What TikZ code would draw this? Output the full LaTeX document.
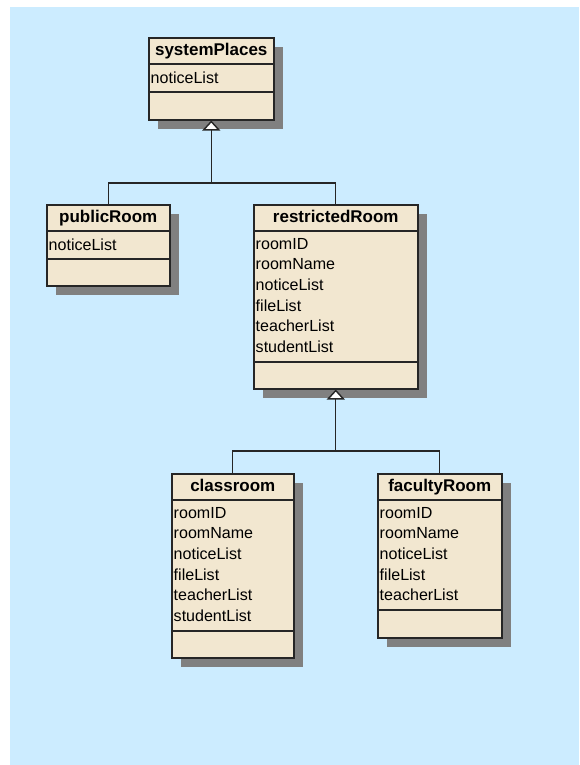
\documentclass[tikz,border=0pt]{standalone}
\usepackage{fontspec}
\setmainfont{Liberation Sans}
\usetikzlibrary{calc,shadows,arrows.meta}
\definecolor{sky}{HTML}{CCECFF}
\definecolor{classfill}{HTML}{F2E7D0}
\definecolor{shade}{HTML}{808080}
\newcommand\px{0.03cm}

\begin{document}
\begin{tikzpicture}[x=\px, y=-\px,
        box/.style={draw=black!85, fill=classfill, line width=1.3pt, anchor=north west, inner sep=0pt,
          drop shadow={shadow xshift=0.27cm, shadow yshift=-0.27cm, fill=shade, opacity=1}},
        title/.style={font=\fontsize{14.5}{17}\selectfont\bfseries, anchor=base, inner sep=0pt},
        attrs/.style={font=\fontsize{13.7}{17.6}\selectfont, align=left, anchor=north west, inner sep=0pt},
        sep/.style={draw=black!85, line width=1.3pt},
        link/.style={draw=black!85, line width=1.2pt},
        inherit/.style={link, -{Triangle[fill=white, width=0.54cm, length=0.3cm]}}]
        \useasboundingbox (0, 0) rectangle (579, 765);
        \fill [sky] (10, 7) rectangle (579, 765);

        \node [box, minimum width=125*\px, minimum height=82*\px] (sysPlaces) at (148, 37) {};
        \node [title] (sysPlacesName) at ($(sysPlaces.north)+(0, 18.5)$) {systemPlaces};
        \draw [sep] ($(sysPlaces.north west)+(0, 27)$) -- ($(sysPlaces.north east)+(0, 27)$);
        \draw [sep] ($(sysPlaces.north west)+(0, 55)$) -- ($(sysPlaces.north east)+(0, 55)$);
        \node [attrs] (sysPlacesAttrs) at ($(sysPlaces.north west)+(2.5, 35)$) {noticeList};

        \node [box, minimum width=123*\px, minimum height=81*\px] (pubRoom) at (46, 204) {};
        \node [title] (pubRoomName) at ($(pubRoom.north)+(0, 18.5)$) {publicRoom};
        \draw [sep] ($(pubRoom.north west)+(0, 27)$) -- ($(pubRoom.north east)+(0, 27)$);
        \draw [sep] ($(pubRoom.north west)+(0, 55)$) -- ($(pubRoom.north east)+(0, 55)$);
        \node [attrs] (pubRoomAttrs) at ($(pubRoom.north west)+(2.5, 35)$) {noticeList};

        \node [box, minimum width=164*\px, minimum height=184*\px] (resRoom) at (253, 204) {};
        \node [title] (resRoomName) at ($(resRoom.north)+(0, 18.5)$) {restrictedRoom};
        \draw [sep] ($(resRoom.north west)+(0, 27)$) -- ($(resRoom.north east)+(0, 27)$);
        \draw [sep] ($(resRoom.north west)+(0, 158)$) -- ($(resRoom.north east)+(0, 158)$);
        \node [attrs] (resRoomAttrs) at ($(resRoom.north west)+(2.5, 34)$)
          {roomID\\roomName\\noticeList\\fileList\\teacherList\\studentList};

        \node [box, minimum width=122*\px, minimum height=184*\px] (classRoom) at (171, 473) {};
        \node [title] (classRoomName) at ($(classRoom.north)+(0, 18.5)$) {classroom};
        \draw [sep] ($(classRoom.north west)+(0, 27)$) -- ($(classRoom.north east)+(0, 27)$);
        \draw [sep] ($(classRoom.north west)+(0, 158)$) -- ($(classRoom.north east)+(0, 158)$);
        \node [attrs] (classRoomAttrs) at ($(classRoom.north west)+(2.5, 34)$)
          {roomID\\roomName\\noticeList\\fileList\\teacherList\\studentList};

        \node [box, minimum width=124*\px, minimum height=164*\px] (facRoom) at (377, 473) {};
        \node [title] (facRoomName) at ($(facRoom.north)+(0, 18.5)$) {facultyRoom};
        \draw [sep] ($(facRoom.north west)+(0, 27)$) -- ($(facRoom.north east)+(0, 27)$);
        \draw [sep] ($(facRoom.north west)+(0, 137)$) -- ($(facRoom.north east)+(0, 137)$);
        \node [attrs] (facRoomAttrs) at ($(facRoom.north west)+(2.5, 34)$)
          {roomID\\roomName\\noticeList\\fileList\\teacherList};

        \coordinate (upperJoin) at (sysPlaces.south |- 0, 183);
        \draw [inherit] (upperJoin) -- (sysPlaces.south);
        \draw [link] (pubRoom.north) |- (upperJoin) -| (resRoom.north);

        \coordinate (lowerJoin) at (resRoom.south |- 0, 451);
        \draw [inherit] (lowerJoin) -- (resRoom.south);
        \draw [link] (classRoom.north) |- (lowerJoin) -| (facRoom.north);
      \end{tikzpicture}
\end{document}
